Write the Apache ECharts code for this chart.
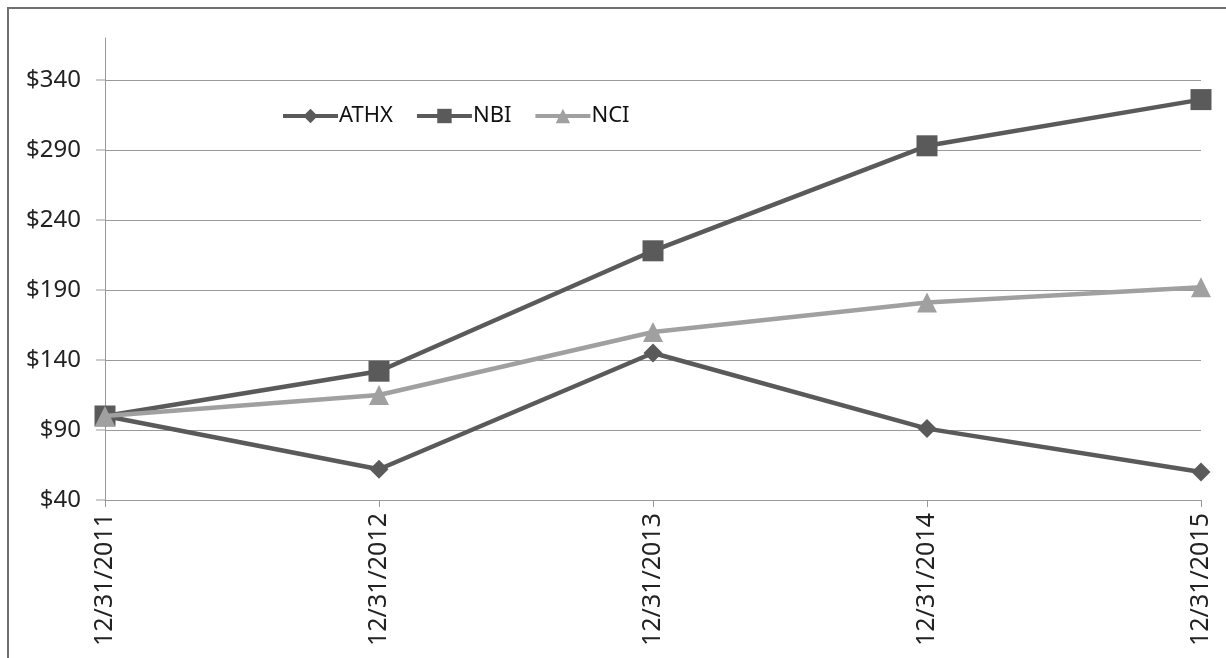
<!DOCTYPE html>
<html>
<head>
<meta charset="utf-8">
<script src="https://cdn.jsdelivr.net/npm/echarts@6/dist/echarts.min.js"></script>
<style>
html,body{margin:0;padding:0;background:#fff;}
#c{width:1226px;height:658px;}
</style>
</head>
<body>
<div id="c"></div>
<script>
const categories = ['12/31/2011', '12/31/2012', '12/31/2013', '12/31/2014', '12/31/2015'];
const athx = [100, 62, 145, 91, 60];
const nbi = [100, 132, 218, 293, 326];
const nci = [100, 115, 160, 181, 192];
const yTicks = [40, 90, 140, 190, 240, 290, 340];

const font = 'Noto Sans';
const chart = echarts.init(document.getElementById('c'));
const border = {
  type: 'rect',
  shape: {x: 8, y: 8, width: 1240, height: 680},
  style: {fill: 'none', stroke: '#707070', lineWidth: 2},
  silent: true, z: 0
};
chart.setOption({
  animation: false,
  backgroundColor: '#fff',
  graphic: [border],
  grid: {left: 105, right: 25, top: 38, bottom: 158},
  legend: {
    left: 276, top: 100,
    itemWidth: 55, itemHeight: 18, itemGap: 22,
    lineStyle: {width: 4},
    textStyle: {fontFamily: font, fontSize: 22, color: '#111', padding: [0, 0, 0, -4]},
    data: ['ATHX', 'NBI', 'NCI']
  },
  xAxis: {
    type: 'category',
    data: categories,
    boundaryGap: false,
    axisLine: {lineStyle: {color: '#999', width: 1}},
    axisTick: {show: true, length: 7, lineStyle: {color: '#999'}},
    axisLabel: {rotate: 90, fontFamily: font, fontSize: 25, color: '#222', margin: 13}
  },
  yAxis: {
    type: 'value',
    min: 40, max: 370, interval: 50,
    axisLine: {show: true, lineStyle: {color: '#999', width: 1}},
    axisTick: {show: false},
    axisLabel: {showMaxLabel: false, formatter: v => (v === 370 ? '' : '$' + v), fontFamily: font, fontSize: 24, color: '#222', margin: 24},
    splitLine: {show: true, lineStyle: {color: ['#999', '#999', '#999', '#999', '#999', '#999', '#999', 'rgba(0,0,0,0)'], width: 1}}
  },
  series: [
    {name: 'ATHX', type: 'line', data: athx, symbol: 'diamond', symbolSize: 19,
     lineStyle: {color: '#5a5a5a', width: 4.5}, itemStyle: {color: '#5a5a5a'}, z: 3},
    {name: 'NBI', type: 'line', data: nbi, symbol: 'rect', symbolSize: 21,
     lineStyle: {color: '#5a5a5a', width: 4.5}, itemStyle: {color: '#5a5a5a'}, z: 2},
    {name: 'NCI', type: 'line', data: nci, symbol: 'triangle', symbolSize: 20,
     lineStyle: {color: '#a0a0a0', width: 4.5}, itemStyle: {color: '#a0a0a0'}, z: 4}
  ]
});
// y-axis tick marks, positioned through the axis scale
const ticks = yTicks.map(v => {
  const p = chart.convertToPixel({yAxisIndex: 0}, v);
  const x0 = chart.convertToPixel({xAxisIndex: 0}, 0);
  return {
    type: 'line', silent: true, z: 1,
    shape: {x1: x0 - 9, y1: p, x2: x0, y2: p},
    style: {stroke: '#999', lineWidth: 1}
  };
});
chart.setOption({graphic: [border].concat(ticks)}, {replaceMerge: ['graphic']});
</script>
</body>
</html>
